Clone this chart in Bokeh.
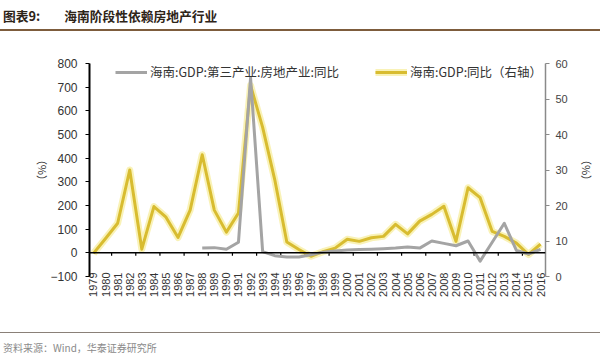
import math
from bokeh.plotting import figure
from bokeh.models import (Range1d, LinearAxis, FixedTicker, Legend, LegendItem,
                          Span, Div)
from bokeh.layouts import column
from bokeh.embed import file_html
from bokeh.resources import INLINE

NAN = float("nan")

# ---- data ----
years = list(range(1979, 2017))
# 海南:GDP:同比 (right axis, %)
gdp_yoy = [6.5, 10.7, 15.0, 30.0, 7.7, 19.7, 16.7, 11.0, 18.7, 34.3,
           18.7, 12.5, 17.9, 53.8, 42.0, 27.3, 9.7, 7.6, 5.7, 7.0,
           8.0, 10.5, 9.9, 10.9, 11.3, 14.7, 12.0, 15.6, 17.5, 19.8,
           9.9, 25.0, 22.2, 12.7, 11.3, 9.4, 6.2, 9.1]
# 海南:GDP:第三产业:房地产业:同比 (left axis, %)
realestate_yoy = [NAN, NAN, NAN, NAN, NAN, NAN, NAN, NAN, NAN, 20,
                  22, 15, 45, 740, 5, -12, -18, -18, -8, 3,
                  8, 12, 14, 15, 17, 20, 25, 20, 50, 40,
                  30, 50, -35, 45, 125, 10, -5, 15]
left_ticks = [-100, 0, 100, 200, 300, 400, 500, 600, 700, 800]
right_ticks = [0, 10, 20, 30, 40, 50, 60]
label_gray = "海南:GDP:第三产业:房地产业:同比"
label_yellow = "海南:GDP:同比（右轴）"
title_no = "图表9:"
title_main = "海南阶段性依赖房地产行业"
source_text = "资料来源：Wind，华泰证券研究所"

CJK = "Noto Sans CJK SC"
LAT = "Liberation Sans"

p = figure(width=600, height=296, output_backend="svg", toolbar_location=None,
           x_range=Range1d(1978.67, 2016.41), y_range=Range1d(-100, 800),
           min_border_left=89, min_border_right=55, min_border_top=29,
           min_border_bottom=54)
p.outline_line_color = None
p.xgrid.visible = False
p.ygrid.visible = False
p.background_fill_color = "white"
p.extra_y_ranges = {"right": Range1d(0, 60)}

# zero line with small ticks
p.add_layout(Span(location=0, dimension="width", line_color="black", line_width=1.5))
tick_x = [y + 0.5 for y in years[1::2]]
p.segment(x0=tick_x, y0=[0] * len(tick_x), x1=tick_x, y1=[-12] * len(tick_x),
          line_color="black", line_width=1.2)

r_glow = p.line(years, gdp_yoy, y_range_name="right", line_color="#F4E77C",
                line_width=7, line_alpha=0.55, line_join="round")
r_yel = p.line(years, gdp_yoy, y_range_name="right", line_color="#D8BC30",
               line_width=3, line_join="round")
r_gray = p.line(years, realestate_yoy, line_color="#A4A4A4", line_width=3,
                line_join="round")

legend = Legend(items=[LegendItem(label=label_gray, renderers=[r_gray]),
                       LegendItem(label=label_yellow, renderers=[r_glow, r_yel])],
                orientation="horizontal", location=(26, 195), spacing=36,
                glyph_width=32, glyph_height=16, label_standoff=3, padding=0,
                margin=0, border_line_color=None, background_fill_alpha=0,
                label_text_font=CJK, label_text_font_size="12.5px",
                label_text_color="#333333")
p.add_layout(legend)

# left axis
ya = p.yaxis[0]
ya.ticker = FixedTicker(ticks=left_ticks)
ya.axis_line_color = "black"
ya.axis_line_width = 2
ya.major_tick_line_color = "black"
ya.major_tick_out = 4
ya.major_tick_in = 0
ya.minor_tick_line_color = None
ya.major_label_text_font = LAT
ya.major_label_text_font_size = "12px"
ya.major_label_text_color = "#333333"
ya.major_label_standoff = 8
ya.axis_label = "（%）"
ya.axis_label_text_font = CJK
ya.axis_label_text_font_style = "normal"
ya.axis_label_text_font_size = "11px"
ya.axis_label_text_color = "#333333"
ya.axis_label_standoff = -2

# right axis
ra = LinearAxis(y_range_name="right", ticker=FixedTicker(ticks=right_ticks))
ra.axis_line_color = "#8a8a8a"
ra.axis_line_width = 1.5
ra.major_tick_line_color = "#8a8a8a"
ra.major_tick_out = 4
ra.major_tick_in = 0
ra.minor_tick_line_color = None
ra.major_label_text_font = LAT
ra.major_label_text_font_size = "11px"
ra.major_label_text_color = "#444444"
ra.major_label_standoff = 6
ra.axis_label = "（%）"
ra.axis_label_text_font = CJK
ra.axis_label_text_font_style = "normal"
ra.axis_label_text_font_size = "11px"
ra.axis_label_text_color = "#333333"
ra.axis_label_standoff = 8
p.add_layout(ra, "right")

# bottom axis (year labels)
xa = p.xaxis[0]
xa.ticker = FixedTicker(ticks=years)
xa.major_label_overrides = {y: str(y) for y in years}
xa.major_label_orientation = math.pi / 2
xa.axis_line_color = None
xa.major_tick_line_color = None
xa.minor_tick_line_color = None
xa.major_label_standoff = -10
xa.major_label_text_font = LAT
xa.major_label_text_font_size = "11px"
xa.major_label_text_color = "#333333"

title_div = Div(
    text=(f'<div style="width:600px;height:23px;padding-top:6px;line-height:20px;'
          f'font-family:\'{CJK}\';font-weight:bold;font-size:12.75px;color:#2e2418;'
          f'border-bottom:2px solid #7d5c3c;white-space:nowrap;box-sizing:content-box;">'
          f'<span style="margin-left:3px">{title_no}</span>'
          f'<span style="margin-left:24px">{title_main}</span></div>'),
    width=600, height=34, margin=(0, 0, 0, 0))

footer_div = Div(
    text=(f'<div style="width:600px;margin-top:2px;border-top:1px solid #8a8078;'
          f'padding-top:8px;line-height:14px;font-family:\'{CJK}\';font-size:10px;'
          f'color:#8a8a8a;white-space:nowrap;"><span style="margin-left:3px">'
          f'{source_text}</span></div>'),
    width=600, height=27, margin=(0, 0, 0, 0))

layout = column(title_div, p, footer_div, spacing=0)

open("out.html", "w").write(file_html(layout, INLINE))
